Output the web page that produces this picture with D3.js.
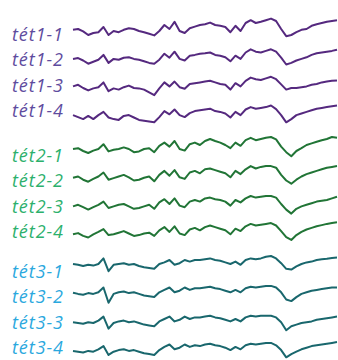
<!DOCTYPE html>
<html><head><meta charset="utf-8">
<script src="https://cdn.jsdelivr.net/npm/d3@7"></script>
<style>html,body{margin:0;padding:0;background:#fff;}svg{display:block;}</style>
</head><body><svg id="c" width="338" height="360"></svg>
<script>
// Channel labels
const groups = ["tét1", "tét2", "tét3"];
const channels = ["1", "2", "3", "4"];
// Sample index (53 samples across the trace)
const sampleCount = 53;
// Trace amplitudes (µV, positive = up)
const tet1_1 = [3,5,-1,-10,-5,-3,10,-10,0,-3,3,7,5,0,-3,-7,-11,0,15,5,23,0,-5,7,11,15,17,21,15,13,10,-3,13,0,20,27,20,23,27,31,25,5,-13,-10,-3,3,5,13,17,20,23,25,27];
const tet1_2 = [2,4,-2,-10,-5,0,12,-8,2,0,5,6,2,0,-4,-8,-10,0,15,5,20,2,-2,10,12,15,16,18,12,10,6,-4,10,2,18,26,20,18,22,26,20,5,-12,-8,-2,2,6,12,16,18,20,22,25];
const tet1_3 = [5,9,1,-5,0,3,15,-7,0,-3,3,7,1,0,-3,-10,-17,0,15,5,17,3,-1,11,13,15,17,19,15,11,9,-3,13,5,19,27,23,21,25,29,23,10,-3,1,1,3,5,9,11,15,17,19,20];
const tet1_4 = [5,0,-5,3,-5,5,13,-1,-5,-7,3,5,-1,-7,-9,-11,-13,0,15,7,19,5,0,10,15,17,19,21,15,13,9,-1,13,5,19,25,21,23,25,29,20,5,-13,-5,5,9,13,17,21,23,25,27,29];
const tet2_1 = [0,2,-5,-10,-4,0,12,-6,-2,0,4,0,-8,-6,0,2,-8,8,16,6,20,0,-4,12,16,10,20,25,20,16,10,2,16,8,22,28,22,25,28,30,24,6,-8,-18,-5,2,10,14,18,22,25,30,28];
const tet2_2 = [0,3,-5,-10,-3,3,13,-5,-1,3,7,1,-7,-5,0,3,-9,7,17,5,19,1,-3,13,17,11,21,23,19,15,11,1,17,9,21,29,23,27,29,29,25,7,-7,-15,-5,3,9,13,17,21,25,27,29];
const tet2_3 = [0,4,-2,-8,-2,4,12,-4,0,4,6,0,-6,-4,0,4,-6,10,18,6,20,2,-2,12,16,12,20,22,18,16,12,2,16,10,20,26,22,24,26,26,22,6,-8,-18,-6,0,4,8,12,14,16,20,24];
const tet2_4 = [2,5,-2,-6,2,8,15,0,2,6,10,4,-2,0,4,6,-2,12,20,8,22,4,0,14,18,12,20,24,20,16,12,2,16,10,22,28,24,26,28,30,24,10,-5,-12,0,8,14,18,22,25,28,30,32];
const tet3_1 = [0,-2,-5,-2,-4,0,14,-18,-2,0,2,-2,0,-5,-8,-10,-12,0,4,10,-2,2,10,6,10,10,12,14,10,8,4,0,6,-2,10,14,12,14,18,20,14,2,-12,-14,-6,0,4,6,10,12,13,15,16];
const tet3_2 = [0,-3,-5,-1,-3,1,13,-25,-3,1,3,-1,1,-3,-7,-9,-11,1,7,13,1,5,13,7,11,11,13,15,11,9,5,1,7,1,11,15,13,15,17,17,13,1,-17,-21,-11,-3,1,5,7,9,11,13,13];
const tet3_3 = [-2,-4,-6,-2,-4,2,12,-18,-4,0,2,-2,0,-4,-8,-10,-12,0,6,12,0,4,12,6,10,10,12,14,10,8,4,0,6,0,10,14,12,14,14,14,10,-2,-22,-12,-8,-4,-2,0,4,6,8,10,12];
const tet3_4 = [-2,-4,-6,-2,-4,2,10,-12,-4,0,2,-2,0,-4,-8,-10,-12,0,8,14,2,6,14,8,12,10,14,16,12,10,6,0,8,2,12,16,14,16,18,18,12,0,-18,-10,-4,2,6,10,12,14,16,18,20];

const seriesByGroup = [
  [tet1_1, tet1_2, tet1_3, tet1_4],
  [tet2_1, tet2_2, tet2_3, tet2_4],
  [tet3_1, tet3_2, tet3_3, tet3_4]
];

// Layout / style
const traceColors = ["#55297f", "#217536", "#19676d"];
const labelColors = ["#5e4b9e", "#2cb06c", "#2aa8de"];
const traceTop = [31, 149, 264];
const traceStep = 28.7;
const labelTop = [35, 156, 272];
const labelStep = 25.3;

const svg = d3.select("#c");
const x = d3.scaleLinear().domain([0, sampleCount - 1]).range([73, 337]);
const yAmp = d3.scaleLinear().domain([-25, 25]).range([10, -10]);

seriesByGroup.forEach((list, gi) => {
  list.forEach((vals, ci) => {
    const cy = traceTop[gi] + ci * traceStep;
    const line = d3.line()
      .x((d, i) => x(i))
      .y(d => cy + yAmp(d))
      .curve(d3.curveLinear);
    svg.append("path")
      .attr("d", line(vals))
      .attr("fill", "none")
      .attr("stroke", traceColors[gi])
      .attr("stroke-width", 2)
      .attr("stroke-linejoin", "round");
    const ly = labelTop[gi] + ci * labelStep;
    svg.append("text")
      .attr("x", 12)
      .attr("y", ly + 6)
      .attr("font-family", "'Open Sans', sans-serif")
      .attr("font-style", "italic")
      .attr("font-size", 18)
      .attr("fill", labelColors[gi])
      .attr("textLength", 51)
      .attr("lengthAdjust", "spacing")
      .text(groups[gi] + "-" + channels[ci]);
  });
});
</script>
</body></html>
